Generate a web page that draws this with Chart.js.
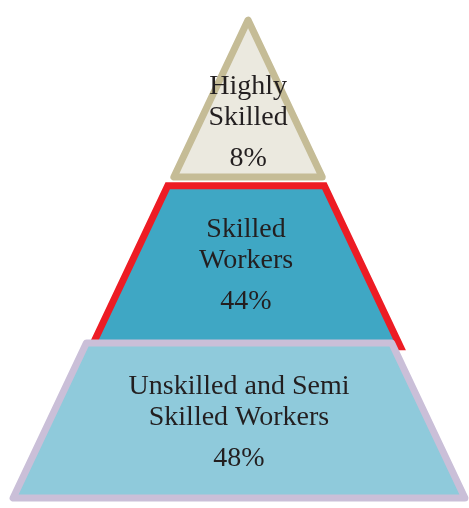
<!DOCTYPE html>
<html>
<head>
<meta charset="utf-8">
<script src="https://cdn.jsdelivr.net/npm/chart.js@4/dist/chart.umd.min.js"></script>
<style>
  body { margin: 0; background: #ffffff; }
  #wrap { width: 469px; height: 508px; }
</style>
</head>
<body>
<div id="wrap"><canvas id="myChart" width="469" height="508"></canvas></div>
<script>
// tiers, from the base of the pyramid up
const tierNames = [
    ['Unskilled and Semi', 'Skilled Workers'],
    ['Skilled', 'Workers'],
    ['Highly', 'Skilled']
];
const tierShares = [48, 44, 8];

// styles
const tierFills = ['#8FCADB', '#3FA7C4', '#EBE9DF'];
const tierBorders = ['#CABFD8', '#ED1C24', '#C5BC96'];
const tierJoins = ['round', 'miter', 'round'];

// layout of the pyramid (value units: one tier = 1 high, half width = 3 - y)
const tierBottom = [0, 0.95, 2.015];
const tierTop = [0.973, 1.96, 3];
const tierShift = [-0.093, 0, 0.027];
const textLevel = [0.5, 0.52, 0.365];

// outline starts and ends mid-base so the closing joint sits on a straight edge
function tierPoints(i) {
    const yb = tierBottom[i], yt = tierTop[i], s = tierShift[i];
    const hb = 3 - yb, ht = 3 - yt;
    return [
        {x: s, y: yb},
        {x: s + hb, y: yb},
        {x: s + ht, y: yt},
        {x: s - ht, y: yt},
        {x: s - hb, y: yb},
        {x: s, y: yb}
    ];
}

const datasets = tierShares.map((v, i) => ({
    label: tierNames[i].join(' '),
    data: tierPoints(i),
    showLine: true,
    fill: 'shape',
    backgroundColor: tierFills[i],
    borderColor: tierBorders[i],
    borderWidth: 7,
    borderJoinStyle: tierJoins[i],
    pointRadius: 0,
    tension: 0,
    order: i
}));

const tierText = {
    id: 'tierText',
    afterDatasetsDraw(chart) {
        const c = chart.ctx;
        const xs = chart.scales.x, ys = chart.scales.y;
        c.save();
        c.fillStyle = '#231F20';
        c.font = '28px "Liberation Serif", "Times New Roman", serif';
        c.textAlign = 'center';
        c.textBaseline = 'alphabetic';
        tierShares.forEach((v, i) => {
            const cx = xs.getPixelForValue(tierShift[i]);
            const cy = ys.getPixelForValue(tierBottom[i] + (tierTop[i] - tierBottom[i]) * textLevel[i]);
            c.fillText(tierNames[i][0], cx, cy - 26);
            c.fillText(tierNames[i][1], cx, cy + 5);
            c.fillText(v + '%', cx, cy + 46);
        });
        c.restore();
    }
};

const ctx = document.getElementById('myChart');

const visibleChart = new Chart(ctx, {
    type: 'scatter',
    data: { datasets: datasets },
    options: {
        responsive: false,
        animation: false,
        events: [],
        layout: { padding: 0, autoPadding: false },
        plugins: {
            legend: { display: false },
            tooltip: { enabled: false }
        },
        scales: {
            x: { type: 'linear', display: false, min: -3.267, max: 2.961 },
            y: { type: 'linear', display: false, min: -0.063, max: 3.126 }
        }
    },
    plugins: [tierText]
});
</script>
</body>
</html>
